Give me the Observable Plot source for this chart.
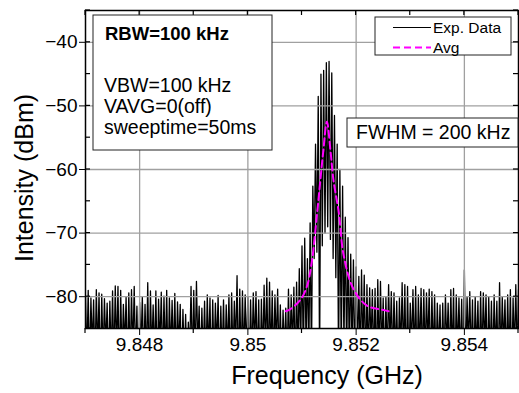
<!DOCTYPE html>
<html>
<head>
<meta charset="utf-8">
<script src="https://cdn.jsdelivr.net/npm/d3@7"></script>
<script src="https://cdn.jsdelivr.net/npm/@observablehq/plot@0.6"></script>
<style>
  html, body { margin: 0; padding: 0; background: white; }
  #chart { width: 519px; height: 393px; }
</style>
</head>
<body>
<div id="chart"></div>
<script>
// ---- data ----
const freqStart = 9.847;      // GHz, first sweep point
const freqStep = 0.00005;     // GHz, sweep spacing
// upper end of each noise spike (dBm)
const spikeTop = [
  -79.9, -79.0, -80.2, -80.5, -78.9, -79.4, -79.6, -80.3, -81.0, -80.7,
  -79.1, -78.3, -78.4, -79.0, -81.2, -80.0, -79.4, -78.9, -78.4, -81.5,
  -80.9, -80.0, -81.2, -77.8, -79.1, -81.3, -79.1, -80.4, -79.3, -79.9,
  -79.0, -80.2, -80.6, -79.5, -80.8, -81.2, -82.0, -82.8, -84.0, -78.4,
  -79.0,
  -77.6, -81.5, -81.8, -80.7, -79.7, -80.2, -80.5, -81.0, -79.8, -81.5,
  -80.5, -81.3, -79.7, -79.4, -80.7, -76.7, -78.8, -79.1, -79.7, -80.0,
  -80.5, -79.4, -79.2, -80.5, -80.4, -78.2, -77.1, -77.7, -79.1, -79.7,
  -78.8, -81.3, -82.1, -81.8, -78.8, -79.7, -78.5,
  -77.7, -75.6, -72.0, -70.8, -74.0, -68.4, -62.6, -56.0, -48.5, -45.0,
  -44.4, -43.2, -43.0, -44.8, -51.5, -56.0, -60.0, -62.6, -67.5, -70.7,
  -73.3, -74.2,
  -75.3, -76.8, -75.8, -76.6, -78.1, -78.6, -78.9, -78.7, -77.3, -77.6,
  -80.2, -80.0, -78.1, -79.2, -79.4, -80.7, -80.2, -77.8, -78.1, -78.4,
  -81.0, -78.9, -78.4, -79.7, -78.7, -78.9, -79.4, -78.8, -79.2, -79.7,
  -81.0, -81.3, -81.0, -79.7, -81.0, -78.9, -78.7, -79.7, -80.2, -80.4,
  -75.8, -80.0, -79.2, -80.5, -80.0, -80.7, -79.2, -79.4, -79.7, -80.0,
  -80.7, -79.7, -80.7, -77.8, -80.0, -80.5, -79.7, -78.9, -80.2, -78.1,
  -78.9
];
// lower end between spikes (dBm)
const spikeLow = [
  -90, -92, -88, -91, -89, -93, -90, -88, -92, -90,
  -91, -89, -93, -90, -88, -92, -91, -89, -90, -94,
  -88, -91, -90, -92, -89, -90, -93, -88, -91, -90,
  -92, -89, -90, -91, -88, -93, -90, -92, -89, -91,
  -90, -88, -92, -90, -91, -89, -93, -90, -88, -92,
  -90, -91, -89, -92, -90, -88, -93, -91, -90, -89,
  -92, -90, -88, -91, -93, -90, -89, -92, -90, -91,
  -88, -90, -92, -89, -91, -90, -88, -92,
  -90, -89, -91, -88, -90, -90, -74, -73, -92, -72,
  -70, -69, -71, -74, -77, -91, -90, -88, -90, -91,
  -89, -92,
  -90, -91, -89, -92, -90, -88, -91, -93, -90, -89,
  -92, -90, -88, -91, -90, -92, -89, -90, -93, -91,
  -88, -90, -92, -89, -91, -90, -88, -93, -90, -91,
  -89, -92, -90, -88, -91, -90, -93, -89, -90, -92,
  -91, -88, -90, -92, -89, -91, -90, -88, -93, -90,
  -91, -89, -92, -90, -88, -91, -90, -93, -89, -90,
  -91
];
const avgFreq = [9.8507, 9.85078, 9.85097, 9.85109, 9.85118, 9.85128, 9.85134, 9.85139, 9.85146,
                 9.85153, 9.85158, 9.85168, 9.85177, 9.85195, 9.8522, 9.85251, 9.8526];
const avgDb = [-82.3, -82.0, -80.5, -78.4, -74.6, -66.8, -61.6, -57.4, -52.5,
               -57.4, -61.6, -66.8, -73.5, -78.8, -81.4, -82.1, -82.3];

const xMajorTicks = [9.848, 9.85, 9.852, 9.854];
const xMinorTicks = [9.847, 9.849, 9.851, 9.853, 9.855];
const yMajorTicks = [-80, -70, -60, -50, -40];
const yMinorTicks = [-85, -75, -65, -55, -45, -35];

const xTitle = "Frequency (GHz)";
const yTitle = "Intensity (dBm)";
const infoBold = "RBW=100 kHz";
const infoLines = ["VBW=100 kHz", "VAVG=0(off)", "sweeptime=50ms"];
const fwhmText = "FWHM = 200 kHz";
const legendNames = ["Exp. Data", "Avg"];

// ---- tables ----
const exp = [];
spikeTop.forEach((v, i) => {
  exp.push({f: freqStart + i * freqStep, db: v});
  exp.push({f: freqStart + (i + 0.5) * freqStep, db: spikeLow[i]});
});
const avg = avgFreq.map((f, i) => ({f, db: avgDb[i]}));

const font = "'Liberation Sans', Arial, Helvetica, sans-serif";

const plot = Plot.plot({
  width: 519,
  height: 393,
  marginLeft: 85,
  marginRight: 1,
  marginTop: 10,
  marginBottom: 65,
  style: {fontFamily: font, fontSize: "19px", color: "black", background: "white", overflow: "visible"},
  x: {domain: [9.847, 9.855], ticks: xMajorTicks, tickSize: 7, tickPadding: 2, tickFormat: d3.format(""), label: null},
  y: {domain: [-85, -35], ticks: yMajorTicks, tickSize: 6, tickPadding: 2, tickFormat: d3.format(""), label: null},
  marks: [
    Plot.line(exp, {x: "f", y: "db", stroke: "black", strokeWidth: 1.3, clip: true}),
    Plot.ruleX(xMajorTicks, {stroke: "#a0a0a0", strokeWidth: 1.3}),
    Plot.ruleY(yMajorTicks, {stroke: "#a0a0a0", strokeWidth: 1.3}),
    Plot.line(avg, {x: "f", y: "db", stroke: "#ff00ff", strokeWidth: 2, strokeDasharray: "7,4", curve: "catmull-rom"}),
    Plot.frame({stroke: "black", strokeWidth: 1.5})
  ]
});

document.getElementById("chart").appendChild(plot);

const sx = plot.scale("x"), sy = plot.scale("y");
const [xl, xr] = sx.range;
const [yb, yt] = sy.range;
const svg = d3.select(plot);
const g = svg.append("g").attr("stroke", "black").attr("stroke-width", 1.2);

// ticks: left inward (all), right inward, top inward, bottom minor outward
for (const v of yMajorTicks.concat(yMinorTicks)) {
  const y = sy.apply(v);
  g.append("line").attr("x1", xl).attr("x2", xl + 5).attr("y1", y).attr("y2", y);
  g.append("line").attr("x1", xr).attr("x2", xr - 5).attr("y1", y).attr("y2", y);
}
for (const v of xMajorTicks.concat(xMinorTicks)) {
  const x = sx.apply(v);
  g.append("line").attr("x1", x).attr("x2", x).attr("y1", yt).attr("y2", yt + 5);
}
for (const v of xMinorTicks) {
  const x = sx.apply(v);
  g.append("line").attr("x1", x).attr("x2", x).attr("y1", yb).attr("y2", yb + 5);
}

const ann = svg.append("g").attr("font-family", font).attr("fill", "black").attr("text-anchor", "start");

// info box
ann.append("rect").attr("x", 93).attr("y", 15).attr("width", 179).attr("height", 135)
  .attr("fill", "white").attr("stroke", "#222").attr("stroke-width", 1);
ann.append("text").attr("x", 105).attr("y", 40).attr("font-size", 18.5).attr("font-weight", "bold").text(infoBold);
infoLines.forEach((t, i) => {
  ann.append("text").attr("x", 104).attr("y", 92 + i * 21).attr("font-size", 19.5).text(t);
});

// FWHM box
ann.append("rect").attr("x", 347).attr("y", 118).attr("width", 171).attr("height", 29)
  .attr("fill", "white").attr("stroke", "#222").attr("stroke-width", 1);
ann.append("text").attr("x", 356).attr("y", 139).attr("font-size", 19.5).text(fwhmText);

// legend
ann.append("rect").attr("x", 375).attr("y", 17).attr("width", 136).attr("height", 38)
  .attr("fill", "white").attr("stroke", "#222").attr("stroke-width", 1);
ann.append("line").attr("x1", 393).attr("x2", 431).attr("y1", 27.5).attr("y2", 27.5)
  .attr("stroke", "black").attr("stroke-width", 1);
ann.append("line").attr("x1", 393).attr("x2", 431).attr("y1", 47.5).attr("y2", 47.5)
  .attr("stroke", "#ff00ff").attr("stroke-width", 2).attr("stroke-dasharray", "7,4");
ann.append("text").attr("x", 433).attr("y", 33).attr("font-size", 15.5).text(legendNames[0]);
ann.append("text").attr("x", 433).attr("y", 52.5).attr("font-size", 15.5).text(legendNames[1]);

// axis titles
ann.append("text").attr("x", 327).attr("y", 384).attr("font-size", 25).attr("text-anchor", "middle").text(xTitle);
ann.append("text").attr("transform", "translate(33,178) rotate(-90)").attr("font-size", 25)
  .attr("text-anchor", "middle").text(yTitle);
</script>
</body>
</html>
